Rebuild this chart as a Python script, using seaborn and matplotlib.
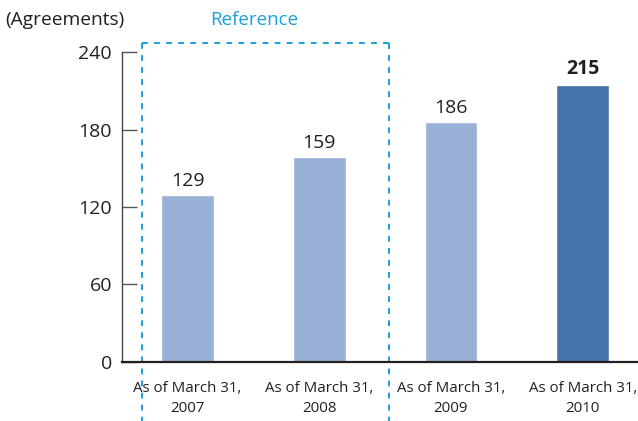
import matplotlib
matplotlib.use("Agg")
import matplotlib.pyplot as plt
import seaborn as sns
import pandas as pd

categories = ["As of March 31,\n2007", "As of March 31,\n2008", "As of March 31,\n2009", "As of March 31,\n2010"]
values = [129, 159, 186, 215]
bar_colors = ["#99b1d6", "#99b1d6", "#99b1d6", "#4473ab"]
yticks = [0, 60, 120, 180, 240]

sns.set_theme(style="white")
plt.rcParams['font.family'] = ['Open Sans', 'DejaVu Sans']
txt = "#231f20"

df = pd.DataFrame({"cat": categories, "val": values})
fig = plt.figure(figsize=(6.38, 4.21), dpi=100)
ax = fig.add_axes([0.1907, 0.1409, 0.8073, 0.7349])
sns.barplot(data=df, x="cat", y="val", hue="cat", palette=bar_colors, legend=False,
            width=0.4, saturation=1, ax=ax)

ax.set_xlim(-0.5, 3.41)
ax.set_ylim(0, 240)
ax.set_yticks(yticks)
ax.set_yticklabels([str(t) for t in yticks], fontsize=14, color=txt)
ax.tick_params(axis='y', direction='in', length=11, width=1, color="#555", pad=7, left=True)
ax.tick_params(axis='x', length=0, pad=14, labelsize=10.8, labelcolor=txt)
for lbl in ax.get_xticklabels():
    lbl.set_linespacing(1.4)
ax.set_xlabel("")
ax.set_ylabel("")
for s in ["top", "right"]:
    ax.spines[s].set_visible(False)
ax.spines["left"].set_color("#444")
ax.spines["left"].set_linewidth(1)
ax.spines["bottom"].set_color(txt)
ax.spines["bottom"].set_linewidth(1.6)

for i, v in enumerate(values):
    ax.text(i, v + 4, str(v), ha="center", va="bottom", fontsize=14, color=txt,
            fontweight="bold" if i == 3 else "normal")

fig.text(0.008, 0.952, "(Agreements)", fontsize=13.8, color=txt, ha="left", va="center")
fig.text(0.398, 0.952, "Reference", fontsize=13.5, color="#1a9fe0", ha="center", va="center")

# dashed reference box
dash = dict(color="#1a9fe0", lw=1.4, ls=(0, (3, 3.2)), clip_on=False)
xl, xr, ytop, ybot = -0.347, 1.527, 247.2, -48
ax.plot([xl, xr], [ytop, ytop], **dash)
ax.plot([xl, xl], [ytop, ybot], **dash)
ax.plot([xr, xr], [ytop, ybot], **dash)

fig.savefig("out.png", dpi=100)
